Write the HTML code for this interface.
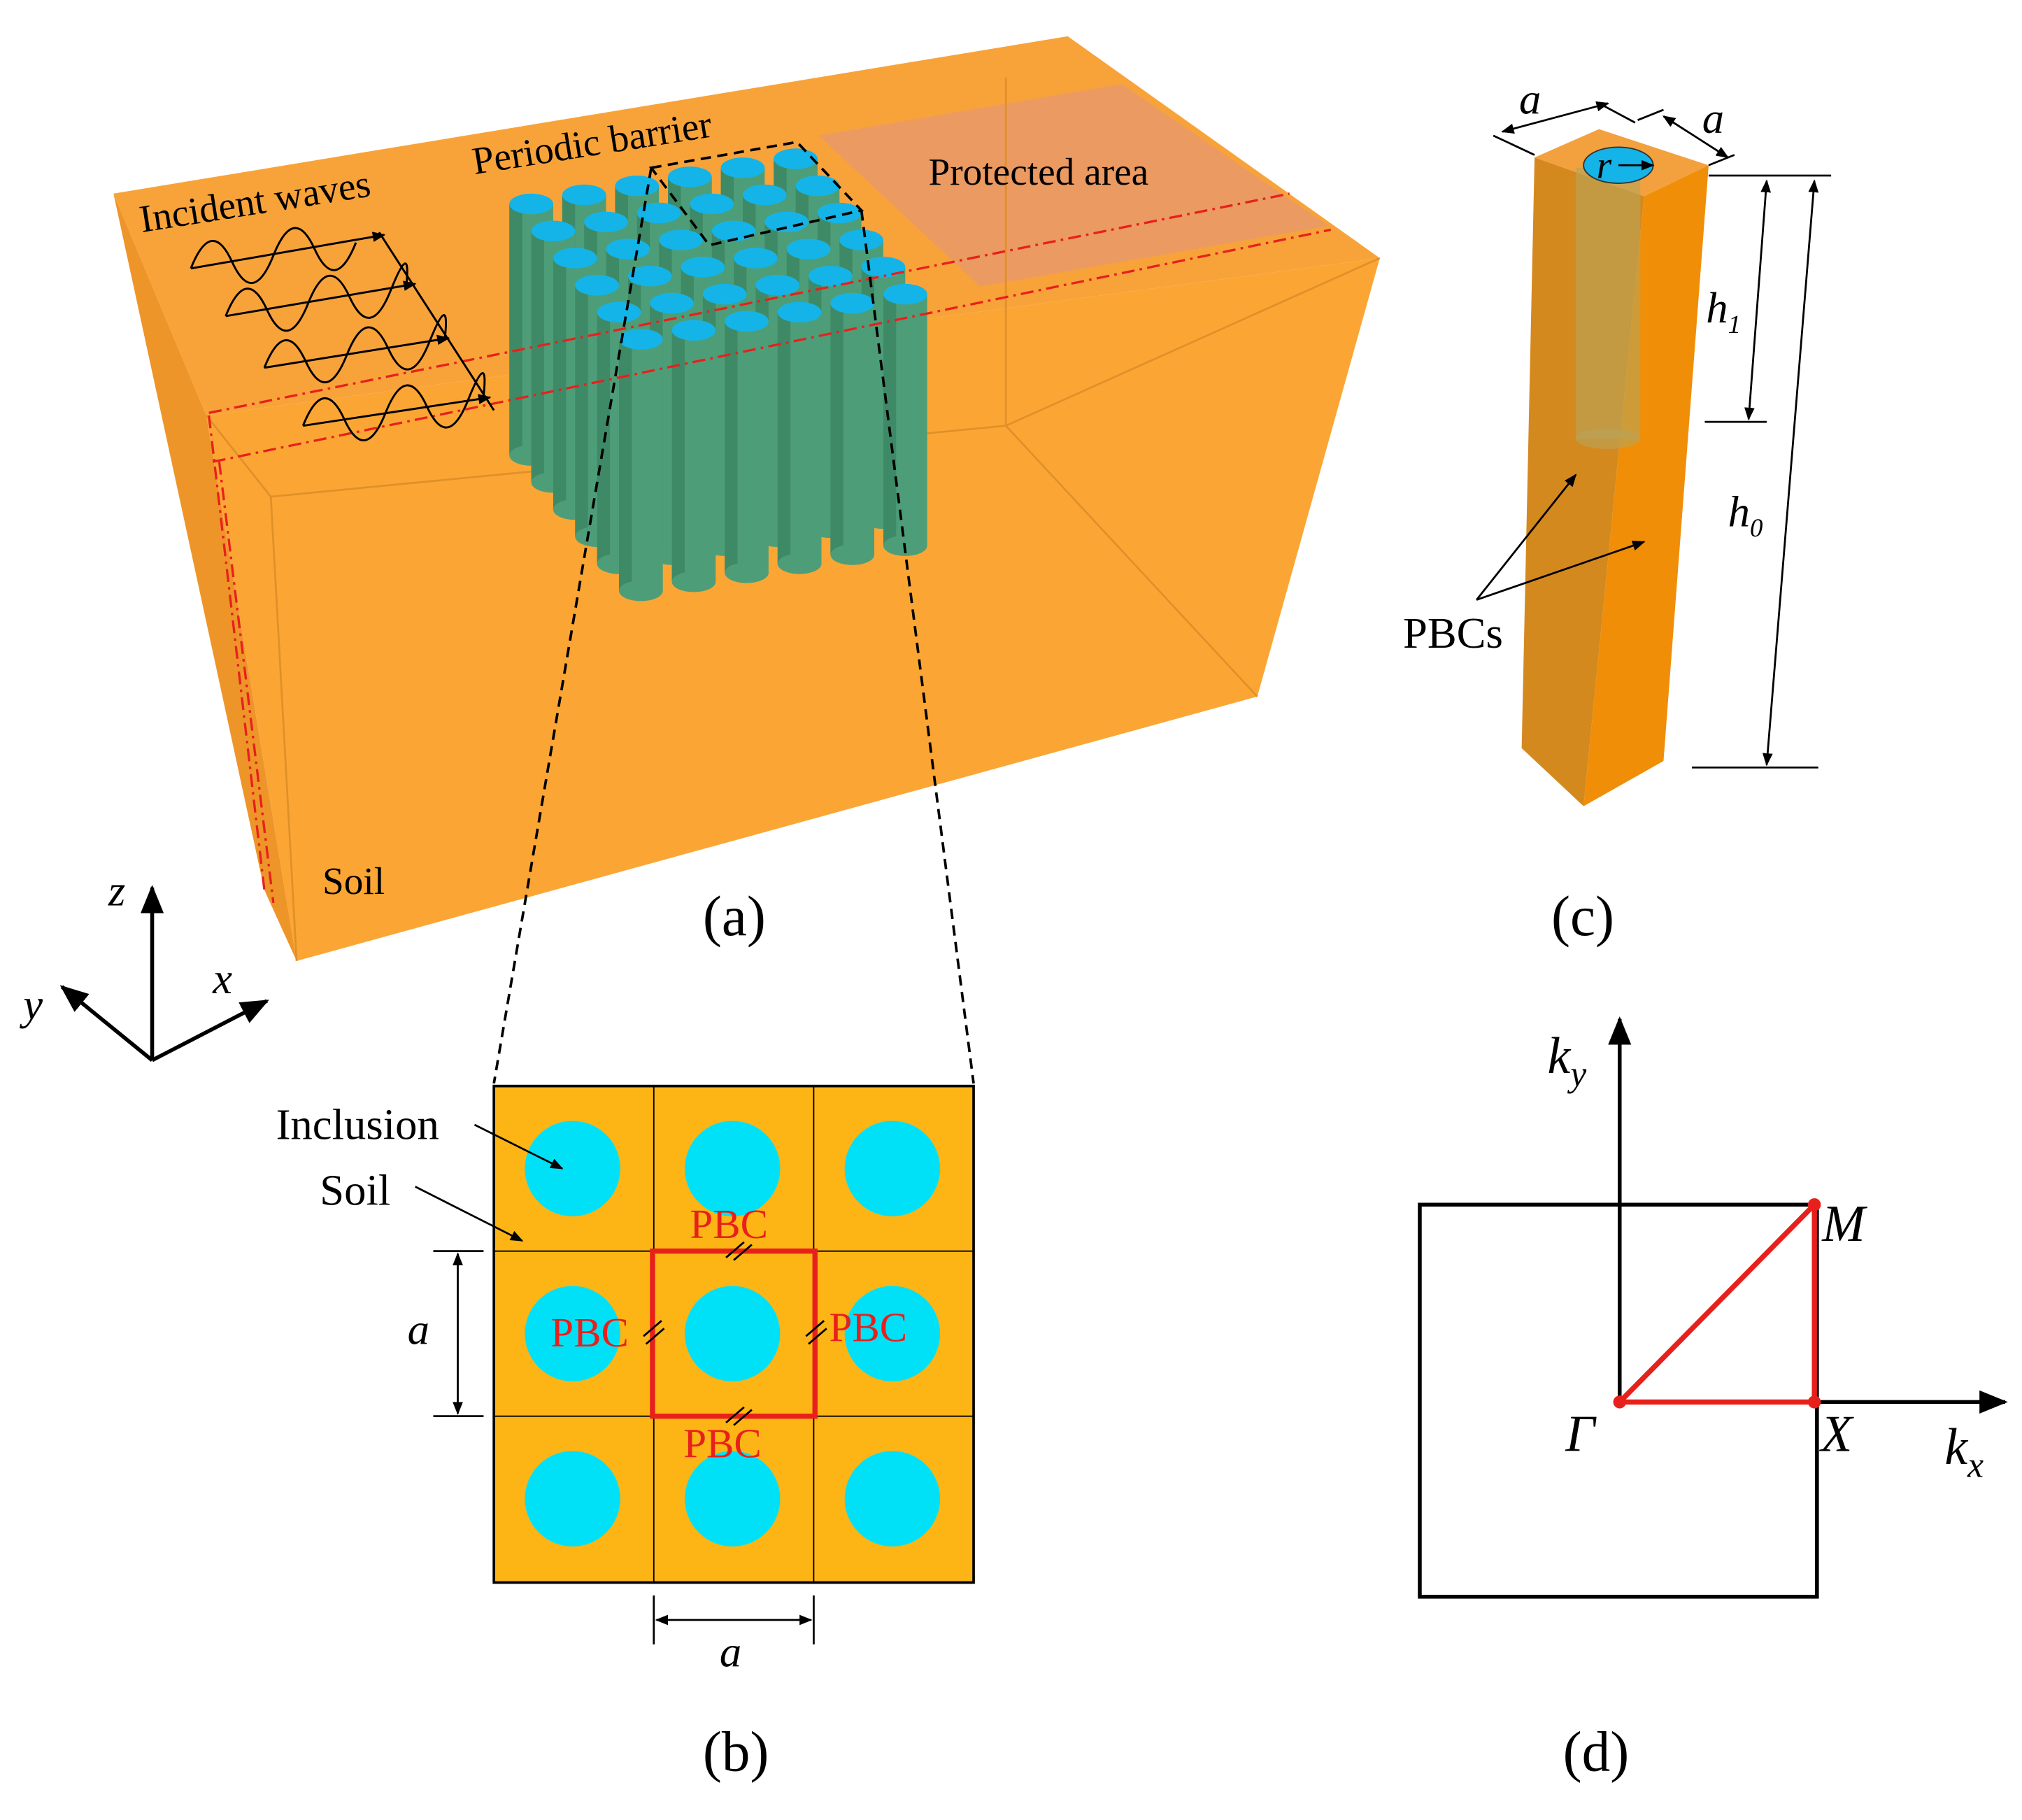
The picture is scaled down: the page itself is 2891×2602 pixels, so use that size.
<!DOCTYPE html>
<html><head><meta charset="utf-8"><style>
html,body{margin:0;padding:0;background:#fff}
svg{display:block}
text{font-family:"Liberation Serif",serif;fill:#000}
</style></head><body>
<svg width="2891" height="2602" viewBox="0 0 1568 1411" xmlns="http://www.w3.org/2000/svg" font-family="Liberation Serif, serif">
<defs>
<marker id="ar" markerWidth="10" markerHeight="8" refX="9" refY="4" orient="auto" markerUnits="userSpaceOnUse"><path d="M0,0 L10,4 L0,8 z" fill="#000"/></marker>
<marker id="al" markerWidth="10" markerHeight="8" refX="1" refY="4" orient="auto" markerUnits="userSpaceOnUse"><path d="M10,0 L0,4 L10,8 z" fill="#000"/></marker>
<marker id="big" markerWidth="22" markerHeight="18" refX="20" refY="9" orient="auto" markerUnits="userSpaceOnUse"><path d="M0,0 L22,9 L0,18 z" fill="#000"/></marker>
<g id="cyl">
<rect x="-17" y="0" width="34" height="195" fill="#4d9e78"/>
<rect x="-17" y="0" width="10" height="195" fill="#3f8a66"/>
<ellipse cx="0" cy="195" rx="17" ry="8" fill="#4d9e78"/>
<ellipse cx="0" cy="0" rx="17" ry="8" fill="#14b4e8"/>
</g>
</defs>

<polygon points="88,150 828,28 1070,200 160,322" fill="#f8a33a"/>
<polygon points="88,150 160,322 230,745 205,690" fill="#ee952a"/>
<polygon points="160,322 1070,200 975,540 230,745" fill="#fba634"/>
<polygon points="635,105 870,65 1030,175 760,222" fill="#eb9a62"/>
<polyline points="160,322 210,385 780,330 1070,200" fill="none" stroke="#e0902a" stroke-width="1.5"/>
<line x1="780" y1="330" x2="975" y2="540" stroke="#e0902a" stroke-width="1.5"/>
<line x1="210" y1="385" x2="230" y2="745" stroke="#e0902a" stroke-width="1.5"/>
<line x1="780" y1="60" x2="780" y2="330" stroke="#e0902a" stroke-width="1.5"/>

<g>
<use href="#cyl" x="617" y="123"/><use href="#cyl" x="576" y="130"/><use href="#cyl" x="535" y="137"/><use href="#cyl" x="494" y="144"/><use href="#cyl" x="453" y="151"/><use href="#cyl" x="412" y="158"/>
<use href="#cyl" x="634" y="144"/><use href="#cyl" x="593" y="151"/><use href="#cyl" x="552" y="158"/><use href="#cyl" x="511" y="165"/><use href="#cyl" x="470" y="172"/><use href="#cyl" x="429" y="179"/>
<use href="#cyl" x="651" y="165"/><use href="#cyl" x="610" y="172"/><use href="#cyl" x="569" y="179"/><use href="#cyl" x="528" y="186"/><use href="#cyl" x="487" y="193"/><use href="#cyl" x="446" y="200"/>
<use href="#cyl" x="668" y="186"/><use href="#cyl" x="627" y="193"/><use href="#cyl" x="586" y="200"/><use href="#cyl" x="545" y="207"/><use href="#cyl" x="504" y="214"/><use href="#cyl" x="463" y="221"/>
<use href="#cyl" x="685" y="207"/><use href="#cyl" x="644" y="214"/><use href="#cyl" x="603" y="221"/><use href="#cyl" x="562" y="228"/><use href="#cyl" x="521" y="235"/><use href="#cyl" x="480" y="242"/>
<use href="#cyl" x="702" y="228"/><use href="#cyl" x="661" y="235"/><use href="#cyl" x="620" y="242"/><use href="#cyl" x="579" y="249"/><use href="#cyl" x="538" y="256"/><use href="#cyl" x="497" y="263"/>
</g>

<g stroke="#e8201c" stroke-width="1.8" fill="none" stroke-dasharray="10,4,2,4">
<line x1="162" y1="320" x2="1000" y2="150"/>
<line x1="165" y1="358" x2="1032" y2="178"/>
<line x1="162" y1="322" x2="205" y2="690"/>
<line x1="170" y1="358" x2="212" y2="700"/>
</g>

<g stroke="#000" stroke-width="2" fill="none" stroke-dasharray="8,5">
<polygon points="505,130 618,110 668,163 550,190"/>
<line x1="505" y1="130" x2="383" y2="840"/>
<line x1="668" y1="163" x2="755" y2="840"/>
</g>

<g stroke="#000" stroke-width="1.6" fill="none">
<line x1="294" y1="180" x2="383" y2="318"/>
<path d="M148,208 q16,-40 32,-5 t32,-5 t32,-5 t32,-5"/>
<line x1="148" y1="208" x2="298" y2="182" marker-end="url(#ar)"/>
<path d="M175,245 q16,-40 32,-5 t32,-5 t32,-5 t32,-5 t12,-3"/>
<line x1="175" y1="245" x2="322" y2="220" marker-end="url(#ar)"/>
<path d="M205,285 q16,-40 32,-5 t32,-5 t32,-5 t32,-5 t12,-3"/>
<line x1="205" y1="285" x2="348" y2="262" marker-end="url(#ar)"/>
<path d="M235,330 q16,-40 32,-5 t32,-5 t32,-5 t32,-5 t12,-3"/>
<line x1="235" y1="330" x2="380" y2="308" marker-end="url(#ar)"/>
</g>
<text x="110" y="180" font-size="30" transform="rotate(-9 110 180)">Incident waves</text>
<text x="368" y="135" font-size="30" transform="rotate(-9 368 135)">Periodic barrier</text>
<text x="720" y="143" font-size="30">Protected area</text>
<text x="250" y="693" font-size="30">Soil</text>
<text x="545" y="725" font-size="44">(a)</text>

<g stroke="#000" stroke-width="3" fill="none">
<line x1="118" y1="822" x2="118" y2="688" marker-end="url(#big)"/>
<line x1="118" y1="822" x2="207" y2="776" marker-end="url(#big)"/>
<line x1="118" y1="822" x2="48" y2="765" marker-end="url(#big)"/>
</g>
<text x="84" y="702" font-size="34" font-style="italic">z</text>
<text x="165" y="770" font-size="34" font-style="italic">x</text>
<text x="18" y="790" font-size="34" font-style="italic">y</text>

<rect x="383" y="842" width="372" height="385" fill="#fdb515" stroke="#000" stroke-width="2"/>
<g stroke="#000" stroke-width="1">
<line x1="507" y1="842" x2="507" y2="1227"/><line x1="631" y1="842" x2="631" y2="1227"/>
<line x1="383" y1="970" x2="755" y2="970"/><line x1="383" y1="1098" x2="755" y2="1098"/>
</g>
<g fill="#00e1f8">
<circle cx="444" cy="906" r="37"/><circle cx="568" cy="906" r="37"/><circle cx="692" cy="906" r="37"/>
<circle cx="444" cy="1034" r="37"/><circle cx="568" cy="1034" r="37"/><circle cx="692" cy="1034" r="37"/>
<circle cx="444" cy="1162" r="37"/><circle cx="568" cy="1162" r="37"/><circle cx="692" cy="1162" r="37"/>
</g>
<rect x="506" y="970" width="126" height="128" fill="none" stroke="#e8201c" stroke-width="4"/>
<g stroke="#000" stroke-width="1.5">
<line x1="563" y1="975" x2="577" y2="963"/><line x1="569" y1="977" x2="583" y2="965"/>
<line x1="563" y1="1103" x2="577" y2="1091"/><line x1="569" y1="1105" x2="583" y2="1093"/>
<line x1="499" y1="1036" x2="513" y2="1024"/><line x1="501" y1="1042" x2="515" y2="1030"/>
<line x1="625" y1="1036" x2="639" y2="1024"/><line x1="627" y1="1042" x2="641" y2="1030"/>
</g>
<g font-size="32">
<text x="535" y="960" style="fill:#e8201c">PBC</text>
<text x="427" y="1044" style="fill:#e8201c">PBC</text>
<text x="643" y="1040" style="fill:#e8201c">PBC</text>
<text x="530" y="1130" style="fill:#e8201c">PBC</text>
</g>
<text x="214" y="883" font-size="34">Inclusion</text>
<text x="248" y="934" font-size="34">Soil</text>
<g stroke="#000" stroke-width="1.5" fill="none">
<line x1="368" y1="872" x2="436" y2="906" marker-end="url(#ar)"/>
<line x1="322" y1="920" x2="405" y2="962" marker-end="url(#ar)"/>
<line x1="336" y1="970" x2="375" y2="970"/><line x1="336" y1="1098" x2="375" y2="1098"/>
<line x1="355" y1="972" x2="355" y2="1096" marker-start="url(#al)" marker-end="url(#ar)"/>
<line x1="507" y1="1237" x2="507" y2="1275"/><line x1="631" y1="1237" x2="631" y2="1275"/>
<line x1="509" y1="1256" x2="629" y2="1256" marker-start="url(#al)" marker-end="url(#ar)"/>
</g>
<text x="316" y="1042" font-size="34" font-style="italic">a</text>
<text x="558" y="1292" font-size="34" font-style="italic">a</text>
<text x="545" y="1373" font-size="44">(b)</text>

<polygon points="1190,122 1240,100 1325,128 1275,152" fill="#f3a13e"/>
<polygon points="1190,122 1275,152 1228,625 1180,580" fill="#d4891f"/>
<polygon points="1275,152 1325,128 1290,590 1228,625" fill="#f08e08"/>
<rect x="1222" y="130" width="50" height="210" fill="#b7a35a" opacity="0.6"/>
<ellipse cx="1247" cy="340" rx="25" ry="8" fill="#b7a35a" opacity="0.6"/>
<ellipse cx="1255" cy="128" rx="27" ry="14" fill="#14b4e8" stroke="#333" stroke-width="1"/>
<line x1="1255" y1="128" x2="1282" y2="128" stroke="#000" stroke-width="1.5" marker-end="url(#ar)"/>
<text x="1238" y="138" font-size="30" font-style="italic">r</text>
<g stroke="#000" stroke-width="1.5" fill="none">
<line x1="1158" y1="105" x2="1190" y2="120"/><line x1="1240" y1="80" x2="1268" y2="95"/>
<line x1="1165" y1="102" x2="1247" y2="80" marker-start="url(#al)" marker-end="url(#ar)"/>
<line x1="1270" y1="93" x2="1290" y2="85"/><line x1="1325" y1="128" x2="1345" y2="120"/>
<line x1="1290" y1="90" x2="1340" y2="122" marker-start="url(#al)" marker-end="url(#ar)"/>
<line x1="1325" y1="136" x2="1420" y2="136"/>
<line x1="1322" y1="327" x2="1370" y2="327"/>
<line x1="1312" y1="595" x2="1410" y2="595"/>
<line x1="1370" y1="140" x2="1356" y2="325" marker-start="url(#al)" marker-end="url(#ar)"/>
<line x1="1407" y1="140" x2="1370" y2="593" marker-start="url(#al)" marker-end="url(#ar)"/>
<line x1="1145" y1="465" x2="1222" y2="368" marker-end="url(#ar)"/>
<line x1="1145" y1="465" x2="1275" y2="420" marker-end="url(#ar)"/>
</g>
<text x="1178" y="88" font-size="34" font-style="italic">a</text>
<text x="1320" y="103" font-size="34" font-style="italic">a</text>
<text x="1323" y="250" font-size="34" font-style="italic">h<tspan font-size="20" dy="8">1</tspan></text>
<text x="1340" y="408" font-size="34" font-style="italic">h<tspan font-size="20" dy="8">0</tspan></text>
<text x="1088" y="502" font-size="34">PBCs</text>
<text x="1203" y="725" font-size="44">(c)</text>

<rect x="1101" y="934" width="308" height="304" fill="none" stroke="#000" stroke-width="3"/>
<g stroke="#000" stroke-width="3" fill="none">
<line x1="1256" y1="1087" x2="1256" y2="790" marker-end="url(#big)"/>
<line x1="1256" y1="1087" x2="1555" y2="1087" marker-end="url(#big)"/>
</g>
<polygon points="1256,1087 1407,934 1407,1087" fill="none" stroke="#e8201c" stroke-width="4"/>
<circle cx="1256" cy="1087" r="5" fill="#e8201c"/><circle cx="1407" cy="934" r="5" fill="#e8201c"/><circle cx="1407" cy="1087" r="5" fill="#e8201c"/>
<text x="1200" y="832" font-size="40" font-style="italic">k<tspan font-size="28" dy="10">y</tspan></text>
<text x="1508" y="1135" font-size="40" font-style="italic">k<tspan font-size="28" dy="10">x</tspan></text>
<text x="1413" y="962" font-size="40" font-style="italic">M</text>
<text x="1412" y="1125" font-size="40" font-style="italic">X</text>
<text x="1214" y="1125" font-size="40" font-style="italic">Γ</text>
<text x="1212" y="1373" font-size="44">(d)</text>
</svg>
</body></html>
